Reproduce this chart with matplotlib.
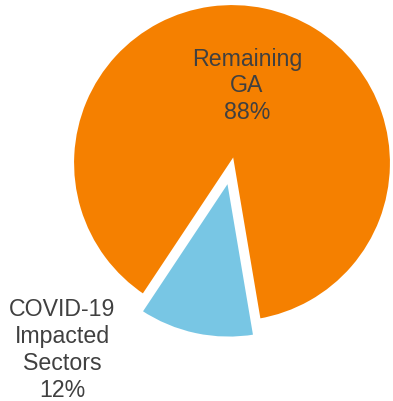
import matplotlib.pyplot as plt

plt.rcParams['font.family'] = ['Liberation Sans', 'DejaVu Sans']

# Share of GA
labels = ['Remaining\nGA\n88%', 'COVID-19\nImpacted\nSectors\n12%']
shares = [88, 12]
colors = ['#F58000', '#78C6E4']

fig = plt.figure(figsize=(3.93, 4.01), dpi=100)
ax = fig.add_axes([0, 0, 1, 1])
ax.set_xlim(0, 393)
ax.set_ylim(0, 401)
ax.set_aspect('equal')

# pie drawn in pixel units, so explode is an absolute offset
wedges, _ = ax.pie(shares, colors=colors, startangle=279.6, counterclock=True,
                   explode=[0, 16], center=(232, 238), radius=160,
                   wedgeprops=dict(edgecolor='white', linewidth=3), frame=True)
ax.axis('off')

ax.text(247, 315, labels[0], ha='center', va='center', fontsize=16.7,
        color='#404040', linespacing=1.22)
ax.text(62, 51, labels[1], ha='center', va='center', fontsize=16.7,
        color='#404040', linespacing=1.22)

fig.savefig('out.png', dpi=100)
